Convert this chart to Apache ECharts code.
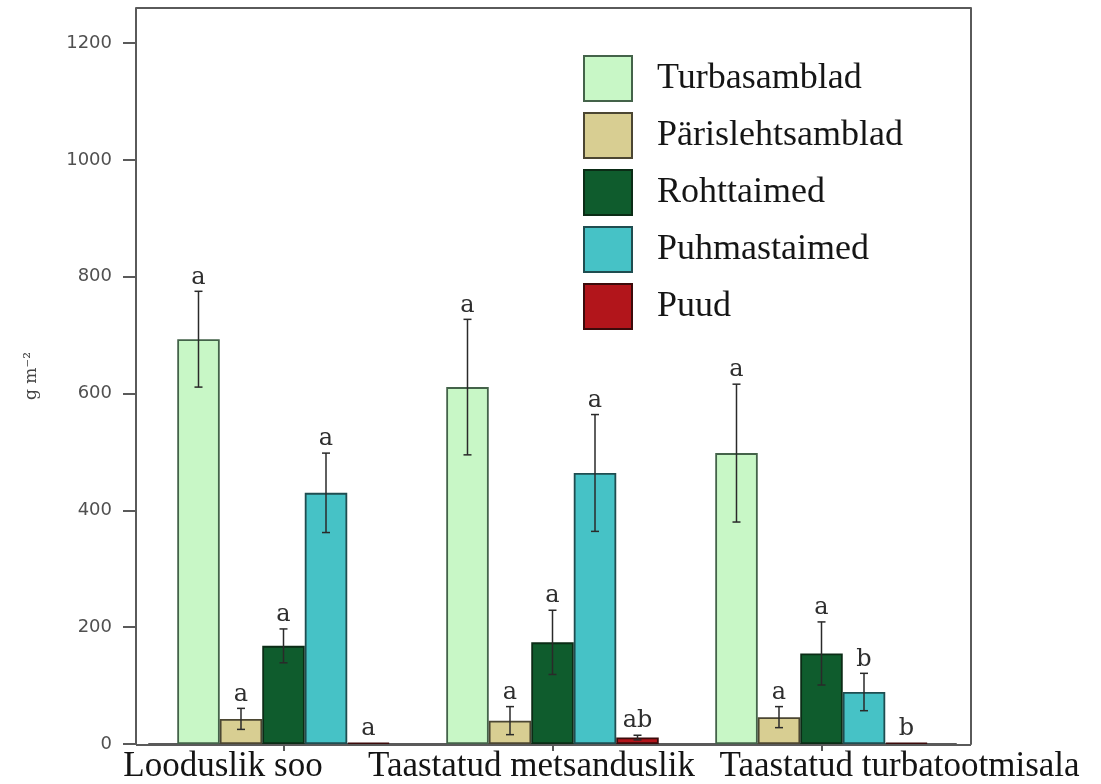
<!DOCTYPE html>
<html>
<head>
<meta charset="utf-8">
<script src="https://cdn.jsdelivr.net/npm/echarts@6/dist/echarts.min.js"></script>
<style>
  html, body { margin: 0; padding: 0; background: #fff; }
  #chart { width: 1101px; height: 784px; }
</style>
</head>
<body>
<div id="chart"></div>
<script>
// Biomass (g m-2) of plant groups on three peatland site types
const categories = ['Looduslik soo', 'Taastatud metsanduslik', 'Taastatud turbatootmisala'];
const seriesNames = ['Turbasamblad', 'Pärislehtsamblad', 'Rohttaimed', 'Puhmastaimed', 'Puud'];

const turbasamblad      = [693, 611, 498];
const turbasambladErr   = [82, 116, 118];
const parislehtsamblad    = [43, 40, 46];
const parislehtsambladErr = [18, 24, 18];
const rohttaimed        = [168, 174, 155];
const rohttaimedErr     = [29, 55, 54];
const puhmastaimed      = [430, 464, 89];
const puhmastaimedErr   = [68, 100, 32];
const puud              = [2, 11, 2];
const puudErr           = [0, 4, 0];

// significance letters above each bar
const turbasambladLetters     = ['a', 'a', 'a'];
const parislehtsambladLetters = ['a', 'a', 'a'];
const rohttaimedLetters       = ['a', 'a', 'a'];
const puhmastaimedLetters     = ['a', 'a', 'b'];
const puudLetters             = ['a', 'ab', 'b'];

const yTicks = [0, 200, 400, 600, 800, 1000, 1200];

const means   = [turbasamblad, parislehtsamblad, rohttaimed, puhmastaimed, puud];
const errs    = [turbasambladErr, parislehtsambladErr, rohttaimedErr, puhmastaimedErr, puudErr];
const letters = [turbasambladLetters, parislehtsambladLetters, rohttaimedLetters, puhmastaimedLetters, puudLetters];

const fills   = ['#c8f7c6', '#d8ce92', '#0f5c2d', '#46c2c6', '#b2151b'];
const borders = ['#44634a', '#4b4632', '#0b2c16', '#1f4d50', '#3c0b0b'];

const W = 1101, H = 784;
const AXIS_X = 136, RIGHT_X = 971, TOP_Y = 8, BASE_Y = 745;
const GRID_L = 149, GRID_R = 956;
const CAT_GAP = 0.21;
const N = seriesNames.length;
const frameColor = '#5a5a5a';

const chart = echarts.init(document.getElementById('chart'));

const barSeries = seriesNames.map((name, k) => ({
  name: name,
  type: 'bar',
  data: means[k],
  barGap: 0,
  barCategoryGap: (CAT_GAP * 100) + '%',
  itemStyle: { color: fills[k], borderColor: borders[k], borderWidth: 1.8 },
  z: 2
}));

const errSeries = seriesNames.map((name, k) => ({
  type: 'custom',
  xAxisIndex: 0,
  yAxisIndex: 0,
  z: 5,
  silent: true,
  data: means[k].map((m, i) => [i, m, errs[k][i]]),
  encode: { x: 0, y: 1 },
  renderItem: function (params, api) {
    const ci = api.value(0), mean = api.value(1), err = api.value(2);
    const bandW = api.size([1, 0])[0];
    const groupW = bandW * (1 - CAT_GAP);
    const barW = groupW / N;
    const cx = api.coord([ci, 0])[0] - groupW / 2 + barW * (k + 0.5);
    const yTop = api.coord([ci, mean + err])[1];
    const yBot = api.coord([ci, Math.max(mean - err, 0)])[1];
    const cap = 4;
    const ls = { stroke: '#2a2a2a', lineWidth: 1.5 };
    const children = [];
    if (err > 0) {
      children.push(
        { type: 'line', shape: { x1: cx, y1: yTop, x2: cx, y2: yBot }, style: ls },
        { type: 'line', shape: { x1: cx - cap, y1: yTop, x2: cx + cap, y2: yTop }, style: ls },
        { type: 'line', shape: { x1: cx - cap, y1: yBot, x2: cx + cap, y2: yBot }, style: ls }
      );
    }
    children.push({
      type: 'text',
      style: {
        x: cx, y: yTop - 2,
        text: letters[k][params.dataIndex],
        fill: '#2e2e2e',
        font: '24px "DejaVu Serif"',
        textAlign: 'center',
        textVerticalAlign: 'bottom'
      }
    });
    return { type: 'group', children: children };
  }
}));

const option = {
  animation: false,
  backgroundColor: '#ffffff',
  grid: { left: GRID_L, right: W - GRID_R, top: TOP_Y, bottom: H - BASE_Y },
  legend: {
    data: seriesNames,
    orient: 'vertical',
    left: 583,
    top: 55,
    padding: 0,
    itemWidth: 48,
    itemHeight: 45,
    itemGap: 10,
    icon: 'rect',
    selectedMode: false,
    textStyle: {
      fontFamily: '"Liberation Serif"',
      fontSize: 36,
      color: '#151515',
      padding: [0, 0, 0, 20]
    }
  },
  xAxis: {
    type: 'category',
    data: categories,
    axisLine: { show: true, lineStyle: { color: frameColor, width: 2 } },
    axisTick: { show: true, alignWithLabel: true, length: 7, lineStyle: { color: frameColor, width: 2 } },
    axisLabel: {
      interval: 0,
      margin: 5,
      color: '#141414',
      fontFamily: '"Liberation Serif"',
      fontSize: 35,
      formatter: function (v, i) { return '{c' + i + '|' + v + '}'; },
      rich: {
        c0: { fontFamily: '"Liberation Serif"', fontSize: 35, color: '#141414', padding: [0, 121, 0, 0] },
        c1: { fontFamily: '"Liberation Serif"', fontSize: 35, color: '#141414', padding: [0, 42, 0, 0] },
        c2: { fontFamily: '"Liberation Serif"', fontSize: 35, color: '#141414', padding: [0, 0, 0, 156] }
      }
    },
    splitLine: { show: false }
  },
  yAxis: [
    {
      type: 'value',
      min: 0,
      max: 1260,
      interval: 200,
      offset: GRID_L - AXIS_X,
      name: 'g m⁻²',
      nameLocation: 'middle',
      nameGap: 96,
      nameTextStyle: { fontFamily: '"DejaVu Serif"', fontSize: 17, color: '#444' },
      axisLine: { show: true, lineStyle: { color: frameColor, width: 2 } },
      axisTick: { show: true, length: 13, customValues: yTicks, lineStyle: { color: frameColor, width: 2 } },
      axisLabel: {
        customValues: yTicks,
        margin: 24,
        color: '#505050',
        fontFamily: '"DejaVu Sans"',
        fontSize: 18,
        formatter: function (v) { return String(v); }
      },
      splitLine: { show: false }
    },
    {
      type: 'value',
      position: 'right',
      min: 0,
      max: 1260,
      interval: 200,
      offset: RIGHT_X - GRID_R,
      axisLine: { show: true, lineStyle: { color: frameColor, width: 2 } },
      axisTick: { show: false },
      axisLabel: { show: false },
      splitLine: { show: false }
    }
  ],
  graphic: [
    { type: 'line', shape: { x1: AXIS_X, y1: TOP_Y, x2: RIGHT_X, y2: TOP_Y }, style: { stroke: frameColor, lineWidth: 2 }, z: 10 },
    { type: 'line', shape: { x1: AXIS_X, y1: BASE_Y, x2: RIGHT_X, y2: BASE_Y }, style: { stroke: frameColor, lineWidth: 2 }, z: 10 }
  ],
  series: barSeries.concat(errSeries)
};

chart.setOption(option);
</script>
</body>
</html>
